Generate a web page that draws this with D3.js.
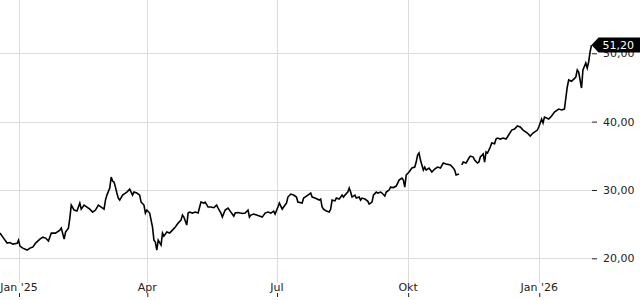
<!DOCTYPE html>
<meta charset="utf-8">
<script src="https://d3js.org/d3.v7.min.js"></script>
<style>
  body { margin: 0; background: #fff; }
  text { font-family: "DejaVu Sans", sans-serif; font-size: 11px; }
</style>
<div id="chart"></div>
<script>

// closing prices (null = missing day)
const dates = [
  "2024-12-19","2024-12-21","2024-12-22","2024-12-24","2024-12-26","2024-12-28","2024-12-31",
  "2025-01-01","2025-01-02","2025-01-04","2025-01-07","2025-01-09","2025-01-11","2025-01-13",
  "2025-01-16","2025-01-18","2025-01-20","2025-01-22","2025-01-24","2025-01-27","2025-01-30",
  "2025-01-31","2025-02-02","2025-02-03","2025-02-05","2025-02-06","2025-02-07","2025-02-09",
  "2025-02-11","2025-02-13","2025-02-14","2025-02-16","2025-02-18","2025-02-20","2025-02-22",
  "2025-02-24","2025-02-26","2025-02-28","2025-03-02","2025-03-03","2025-03-04","2025-03-06",
  "2025-03-07","2025-03-08","2025-03-09","2025-03-10","2025-03-11","2025-03-12","2025-03-13",
  "2025-03-15","2025-03-17","2025-03-18","2025-03-20","2025-03-22","2025-03-23","2025-03-25",
  "2025-03-27","2025-03-28","2025-03-30","2025-03-31","2025-04-01","2025-04-03","2025-04-04",
  "2025-04-05","2025-04-06","2025-04-07","2025-04-08","2025-04-09","2025-04-11","2025-04-12",
  "2025-04-13","2025-04-14","2025-04-15","2025-04-17","2025-04-19","2025-04-21","2025-04-23",
  "2025-04-25","2025-04-26","2025-04-27","2025-04-29","2025-04-30","2025-05-01","2025-05-03",
  "2025-05-05","2025-05-07","2025-05-09","2025-05-11","2025-05-12","2025-05-14","2025-05-16",
  "2025-05-18","2025-05-20","2025-05-21","2025-05-23","2025-05-24","2025-05-26","2025-05-28",
  "2025-05-30","2025-06-01","2025-06-02","2025-06-04","2025-06-07","2025-06-09","2025-06-11",
  "2025-06-12","2025-06-13","2025-06-15","2025-06-17","2025-06-19","2025-06-21","2025-06-23",
  "2025-06-25","2025-06-27","2025-06-29","2025-06-30","2025-07-02","2025-07-03","2025-07-05",
  "2025-07-06","2025-07-08","2025-07-09","2025-07-11","2025-07-13","2025-07-15","2025-07-16",
  "2025-07-19","2025-07-20","2025-07-21","2025-07-24","2025-07-25","2025-07-26","2025-07-28",
  "2025-07-31","2025-08-01","2025-08-02","2025-08-03","2025-08-05","2025-08-07","2025-08-08",
  "2025-08-09","2025-08-11","2025-08-12","2025-08-14","2025-08-16","2025-08-17","2025-08-18",
  "2025-08-20","2025-08-21","2025-08-22","2025-08-23","2025-08-25","2025-08-26","2025-08-28",
  "2025-08-29","2025-08-30","2025-09-01","2025-09-03","2025-09-04","2025-09-06","2025-09-07",
  "2025-09-09","2025-09-10","2025-09-12","2025-09-13","2025-09-15","2025-09-16","2025-09-18",
  "2025-09-19","2025-09-21","2025-09-23","2025-09-25","2025-09-27","2025-09-28","2025-09-29",
  "2025-09-30","2025-10-02","2025-10-04","2025-10-06","2025-10-07","2025-10-08","2025-10-09",
  "2025-10-10","2025-10-12","2025-10-13","2025-10-14","2025-10-16","2025-10-18","2025-10-20",
  "2025-10-22","2025-10-24","2025-10-26","2025-10-28","2025-10-31","2025-11-02","2025-11-03",
  "2025-11-04","2025-11-06","2025-11-07","2025-11-08","2025-11-09","2025-11-11","2025-11-13",
  "2025-11-14","2025-11-16","2025-11-17","2025-11-19","2025-11-20","2025-11-21","2025-11-23",
  "2025-11-24","2025-11-25","2025-11-26","2025-11-28","2025-11-29","2025-12-01","2025-12-02",
  "2025-12-03","2025-12-05","2025-12-07","2025-12-09","2025-12-10","2025-12-13","2025-12-15",
  "2025-12-17","2025-12-19","2025-12-21","2025-12-24","2025-12-26","2025-12-28","2025-12-31",
  "2026-01-01","2026-01-03","2026-01-04","2026-01-05","2026-01-08","2026-01-10","2026-01-12",
  "2026-01-15","2026-01-17","2026-01-19","2026-01-20","2026-01-21","2026-01-22","2026-01-24",
  "2026-01-27","2026-01-28","2026-01-29","2026-01-31","2026-02-01","2026-02-03","2026-02-04",
  "2026-02-05","2026-02-06","2026-02-07"
];
const prices = [
  23.69,23.10,22.81,22.23,22.30,22.08,22.20,
  22.66,21.79,21.49,21.20,21.49,21.64,22.23,
  22.81,23.10,22.96,22.52,23.69,23.69,24.13,
  24.42,22.81,23.84,24.42,25.89,27.79,27.06,
  26.91,28.08,27.20,27.79,27.50,27.20,26.76,
  27.06,27.79,27.50,27.20,28.52,29.25,30.28,
  31.89,31.30,31.16,30.42,29.55,28.81,28.52,
  29.25,29.55,29.69,30.13,29.25,29.69,29.55,
  29.25,28.23,27.79,26.62,27.06,26.62,25.59,
  24.57,22.66,22.37,21.20,22.66,21.93,23.69,
  23.25,23.54,23.84,23.69,24.13,24.57,25.15,
  25.59,26.32,26.03,24.86,26.62,26.76,26.62,
  26.76,26.62,28.23,28.08,28.23,27.50,27.50,
  27.40,27.79,27.35,26.62,26.03,27.06,27.35,
  26.76,26.18,26.62,26.70,26.55,26.62,27.06,
  26.03,26.32,26.47,26.32,26.18,26.03,26.62,
  26.76,26.62,26.91,26.47,27.50,28.08,27.20,
  27.50,28.08,28.96,29.40,29.25,28.96,28.23,
  28.08,28.81,28.96,29.40,29.55,28.96,28.81,
  28.52,28.67,27.50,27.20,26.91,26.76,27.20,
  28.52,28.40,28.81,28.67,29.25,28.96,29.25,
  29.69,30.28,29.69,28.96,29.25,28.81,28.96,
  28.52,28.81,28.67,28.38,27.94,28.23,29.25,
  29.69,29.55,29.69,29.55,29.11,29.69,29.99,
  30.42,30.35,30.57,31.45,31.74,31.45,30.42,
  32.18,32.62,33.21,33.35,34.08,35.11,35.40,
  34.38,32.91,33.35,32.91,33.21,32.62,33.06,
  33.35,33.21,33.94,33.80,33.65,33.21,32.91,
  32.18,32.33,null,33.65,34.08,33.94,34.67,
  34.96,34.82,34.38,33.94,34.08,34.82,35.26,
  34.08,35.55,35.40,36.28,36.87,36.75,37.45,
  37.60,37.45,37.60,37.45,37.75,38.77,38.92,
  39.36,39.21,38.77,38.33,37.89,38.33,38.77,
  39.21,40.38,39.80,40.67,40.38,40.82,41.41,
  41.84,41.70,41.84,43.46,45.07,46.09,45.90,
  46.53,47.56,47.26,44.92,47.56,48.58,47.85,
  48.73,50.19,51.20
];

// axis ticks
const xTickDates = ["2025-01-01","2025-04-01","2025-07-01","2025-10-01","2026-01-01"];
const xTickLabels = ["Jan '25","Apr","Jul","Okt","Jan '26"];
const yTicks = [20, 30, 40, 50];

const width = 640, height = 300;
const plotRight = 592, plotBottom = 283;

const parse = d3.timeParse("%Y-%m-%d");
const data = dates.map((d, i) => ({date: parse(d), value: prices[i]}));
const last = data[data.length - 1];

const de = d3.formatLocale({decimal: ",", thousands: ".", grouping: [3], currency: ["", " €"]});
const fmt = de.format(".2f");

const svg = d3.select("#chart")
  .append("svg")
    .attr("width", width)
    .attr("height", height);

const x = d3.scaleTime()
  .domain([parse("2024-12-19"), parse("2026-02-07")])
  .range([0, plotRight - 0.5]);

const y = d3.scaleLinear()
  .domain([20, 50])
  .range([258.3, 53.3]);

// grid
svg.append("g")
  .selectAll("line.h")
  .data(yTicks)
  .join("line")
    .attr("x1", 0)
    .attr("x2", plotRight)
    .attr("y1", d => Math.round(y(d)) + 0.5)
    .attr("y2", d => Math.round(y(d)) + 0.5)
    .attr("stroke", "#dcdcdc");

svg.append("g")
  .selectAll("line.v")
  .data(xTickDates)
  .join("line")
    .attr("x1", d => Math.round(x(parse(d))) + 0.5)
    .attr("x2", d => Math.round(x(parse(d))) + 0.5)
    .attr("y1", 0)
    .attr("y2", plotBottom)
    .attr("stroke", "#dcdcdc");

// x axis: labels with a small tick under them
const xAxis = d3.axisBottom(x)
  .tickValues(xTickDates.map(parse))
  .tickFormat((d, i) => xTickLabels[i])
  .tickSize(0)
  .tickPadding(0);

const gx = svg.append("g")
  .attr("transform", `translate(0,${plotBottom})`)
  .call(xAxis);
gx.select(".domain").remove();
gx.selectAll("text").attr("dy", "0.75em").attr("y", 0).attr("fill", "#222");
gx.selectAll(".tick").append("line")
  .attr("x1", 0.5).attr("x2", 0.5)
  .attr("y1", 10).attr("y2", 14)
  .attr("stroke", "#222");

// y axis on the right
const yAxis = d3.axisRight(y)
  .tickValues(yTicks)
  .tickFormat(fmt)
  .tickSize(5)
  .tickPadding(6);

const gy = svg.append("g")
  .attr("transform", `translate(${plotRight},0)`)
  .call(yAxis);
gy.select(".domain").remove();
gy.selectAll(".tick line").attr("stroke", "#222");
gy.selectAll("text").attr("fill", "#222");

// price line
const line = d3.line()
  .defined(d => d.value !== null)
  .x(d => x(d.date))
  .y(d => y(d.value));

svg.append("path")
  .datum(data)
  .attr("fill", "none")
  .attr("stroke", "#000")
  .attr("stroke-width", 1.6)
  .attr("stroke-linejoin", "miter")
  .attr("d", line);

// last price marker
const lx = x(last.date), ly = y(last.value);
svg.append("path")
  .attr("d", `M${lx},${ly} L${lx + 7},${ly - 7.5} L${width},${ly - 7.5} L${width},${ly + 7.5} L${lx + 7},${ly + 7.5} Z`)
  .attr("fill", "#000");
svg.append("text")
  .attr("x", lx + 11)
  .attr("y", ly)
  .attr("dy", "0.35em")
  .attr("fill", "#fff")
  .text(fmt(last.value));

</script>
